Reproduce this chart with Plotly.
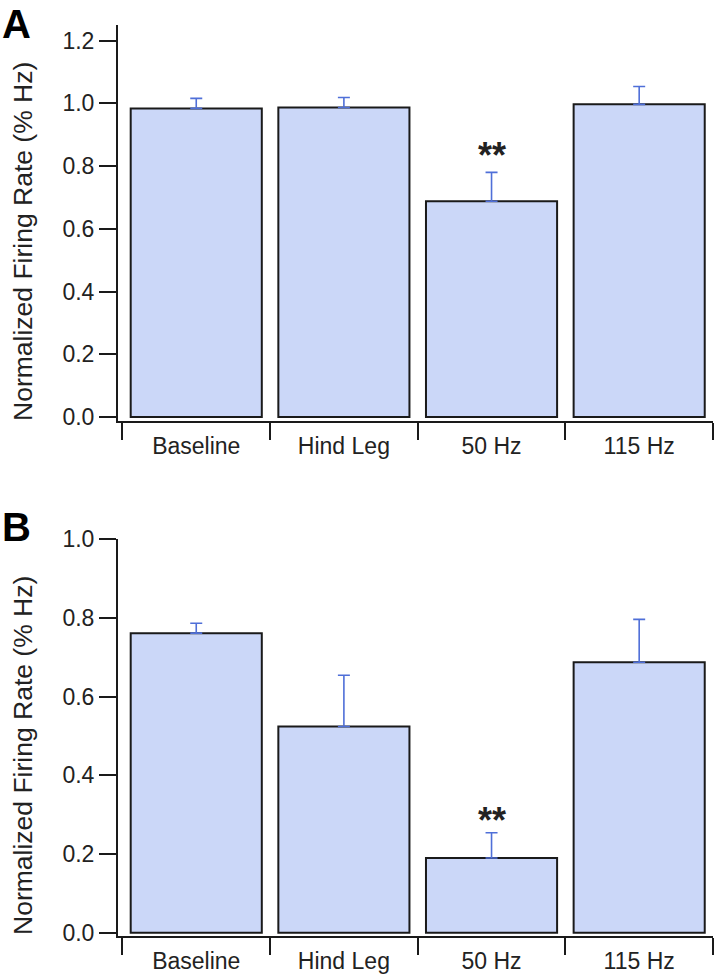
import plotly.graph_objects as go

categories = ["Baseline", "Hind Leg", "50 Hz", "115 Hz"]
a_values = [0.984, 0.987, 0.688, 0.997]
a_errors = [0.032, 0.032, 0.092, 0.057]
b_values = [0.761, 0.524, 0.190, 0.687]
b_errors = [0.025, 0.130, 0.064, 0.109]
a_ticks = [0.0, 0.2, 0.4, 0.6, 0.8, 1.0, 1.2]
b_ticks = [0.0, 0.2, 0.4, 0.6, 0.8, 1.0]
a_star = 0.835
b_star = 0.285
ytitle = "Normalized Firing Rate (% Hz)"

W, H = 720, 979
ML, MR, MT, MB = 118, 7, 25, 43
PW = W - ML - MR
PH = H - MT - MB

def ydom(top_px, bot_px):
    return [1 - (bot_px - MT) / PH, 1 - (top_px - MT) / PH]

def px_x(x):
    return (x - ML) / PW

def px_y(y):
    return 1 - (y - MT) / PH

FONT = "Liberation Sans, Arial, sans-serif"
BAR_FILL = "#cbd7f8"
EDGE = "#1a1a1a"
ERR = "#4f6fd8"

fig = go.Figure()

for vals, errs, xa, ya in [(a_values, a_errors, "x", "y"), (b_values, b_errors, "x2", "y2")]:
    fig.add_trace(go.Bar(
        x=categories, y=vals, xaxis=xa, yaxis=ya,
        marker=dict(color=BAR_FILL, line=dict(color=EDGE, width=2)),
        error_y=dict(type="data", array=errs, arrayminus=[0] * len(errs), symmetric=False,
                     color=ERR, thickness=1.6, width=6),
        showlegend=False,
    ))

common_x = dict(
    type="category", range=[-0.53, 3.5], showline=True, linecolor=EDGE, linewidth=2,
    ticks="outside", ticklen=17, tickwidth=2, tickcolor=EDGE, tickson="boundaries",
    tickfont=dict(family=FONT, size=23, color="#222"), showgrid=False, zeroline=False,
    automargin=False, fixedrange=True, ticklabelstandoff=3,
)
common_y = dict(
    showline=True, linecolor=EDGE, linewidth=2, ticks="outside", ticklen=17, tickwidth=2,
    tickcolor=EDGE, tickformat=".1f", tickfont=dict(family=FONT, size=23, color="#222"),
    showgrid=False, zeroline=False, automargin=False, fixedrange=True,
)

title_font = dict(family=FONT, size=26.5, color="#222")

fig.update_layout(
    width=W, height=H, margin=dict(l=ML, r=MR, t=MT, b=MB),
    plot_bgcolor="white", paper_bgcolor="white", bargap=0.112,
    xaxis=dict(common_x, domain=[0, 1], anchor="y"),
    yaxis=dict(common_y, domain=ydom(25, 421), range=[-0.013, 1.25], tickvals=a_ticks, anchor="x"),
    xaxis2=dict(common_x, domain=[0, 1], anchor="y2"),
    yaxis2=dict(common_y, domain=ydom(539, 936), range=[-0.008, 1.0], tickvals=b_ticks, anchor="x2"),
    annotations=[
        dict(text=ytitle, textangle=-90, x=px_x(23), y=px_y(242), xref="paper", yref="paper",
             xanchor="center", yanchor="middle", showarrow=False, font=title_font),
        dict(text=ytitle, textangle=-90, x=px_x(23), y=px_y(756), xref="paper", yref="paper",
             xanchor="center", yanchor="middle", showarrow=False, font=title_font),
        dict(text="<b>A</b>", x=px_x(0), y=px_y(0), xref="paper", yref="paper",
             xanchor="left", yanchor="top", showarrow=False, font=dict(family=FONT, size=40, color="black")),
        dict(text="<b>B</b>", x=px_x(0), y=px_y(503), xref="paper", yref="paper",
             xanchor="left", yanchor="top", showarrow=False, font=dict(family=FONT, size=40, color="black")),
        dict(text="<b>**</b>", x=categories[2], y=a_star, xref="x", yref="y",
             showarrow=False, font=dict(family=FONT, size=36, color="#222")),
        dict(text="<b>**</b>", x=categories[2], y=b_star, xref="x2", yref="y2",
             showarrow=False, font=dict(family=FONT, size=36, color="#222")),
    ],
)

fig.write_html("out.html", config={"displayModeBar": False},
               post_script="document.body.style.margin='0';")
